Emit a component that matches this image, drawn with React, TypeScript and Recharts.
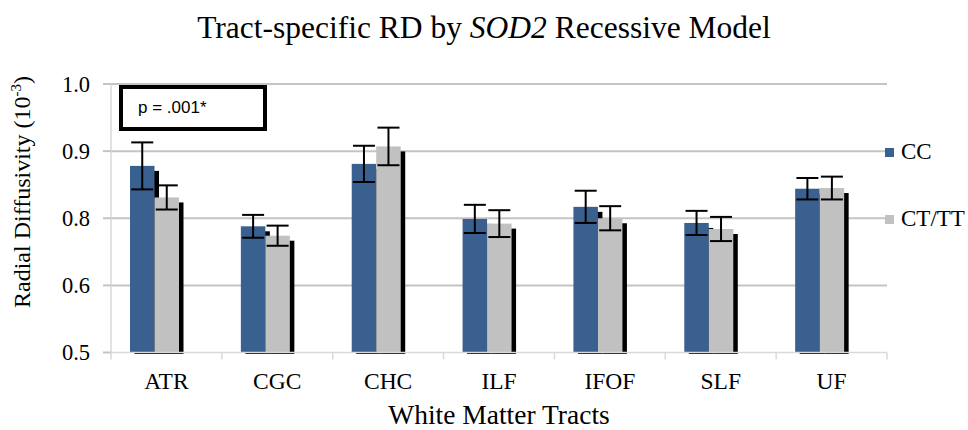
import React from 'react';
import { BarChart, Bar, XAxis, YAxis, CartesianGrid, ErrorBar } from 'recharts';

const tracts = ['ATR', 'CGC', 'CHC', 'ILF', 'IFOF', 'SLF', 'UF'];
const ccMeans = [0.878, 0.788, 0.881, 0.799, 0.817, 0.793, 0.844];
const ccErrors = [0.035, 0.017, 0.027, 0.021, 0.024, 0.018, 0.016];
const ctttMeans = [0.831, 0.774, 0.907, 0.792, 0.8, 0.784, 0.845];
const ctttErrors = [0.018, 0.015, 0.028, 0.02, 0.018, 0.018, 0.017];
const yTicks = [0.6, 0.7, 0.8, 0.9, 1.0];
// labels exactly as printed on the original axis
const yTickLabels = ['0.5', '0.6', '0.8', '0.9', '1.0'];

const series = [
  { key: 'cc', err: 'ccErr', name: 'CC', color: '#3A6090' },
  { key: 'cttt', err: 'ctttErr', name: 'CT/TT', color: '#C0C1C0' },
];

const data = tracts.map((t, i) => ({
  tract: t,
  cc: ccMeans[i],
  ccErr: ccErrors[i],
  cttt: ctttMeans[i],
  ctttErr: ctttErrors[i],
}));

const W = 968;
const H = 430;
const PLOT_LEFT = 111;
const PLOT_RIGHT = 81;
const serif = '"Liberation Serif", "Times New Roman", serif';
const sans = '"Liberation Sans", Arial, sans-serif';
const band = (W - PLOT_LEFT - PLOT_RIGHT) / tracts.length;

const ShadowBar = (props: any) => {
  const { x, y, width, height, fill } = props;
  if (!height || height <= 0) return null;
  return (
    <g>
      <rect x={x + 4.5} y={y + 5} width={width} height={Math.max(height - 3.5, 0)} fill="#000" />
      <rect x={x} y={y} width={width} height={height} fill={fill} />
    </g>
  );
};

const XTick = (props: any) => {
  const { x, y, payload, index } = props;
  return (
    <g>
      <line x1={x - band / 2} x2={x - band / 2} y1={y - 7} y2={y} stroke="#D9D9D9" strokeWidth={1.5} />
      {index === tracts.length - 1 && (
        <line x1={x + band / 2} x2={x + band / 2} y1={y - 7} y2={y} stroke="#D9D9D9" strokeWidth={1.5} />
      )}
      <text x={x} y={y + 29} textAnchor="middle" fontSize={23.5} fontFamily={serif} fill="#000">
        {payload.value}
      </text>
    </g>
  );
};

export default function App() {
  return (
    <div style={{ position: 'absolute', left: 0, top: 0, width: W, height: H, background: '#fff' }}>
      <div
        style={{
          position: 'absolute', left: 0, top: 8, width: W, textAlign: 'center',
          fontFamily: serif, fontSize: 31.5, lineHeight: '40px', color: '#000',
        }}
      >
        Tract-specific RD by <i>SOD2</i> Recessive Model
      </div>

      <BarChart
        width={W}
        height={H}
        data={data}
        margin={{ top: 84, right: PLOT_RIGHT, bottom: 47.5, left: 51 }}
        barGap={0}
        barSize={24.5}
      >
        <CartesianGrid vertical={false} horizontalValues={[0.7, 0.8, 0.9, 1.0]} stroke="#C4C4C4" strokeWidth={2} />
        <XAxis
          dataKey="tract"
          height={30}
          axisLine={{ stroke: '#D9D9D9', strokeWidth: 1.5 }}
          tickLine={false}
          tickSize={7}
          tickMargin={0}
          tick={<XTick />}
          interval={0}
          label={{
            content: () => (
              <text x={499} y={424} textAnchor="middle" fontSize={27.5} fontFamily={serif} fill="#000">
                White Matter Tracts
              </text>
            ),
          }}
        />
        <YAxis
          width={60}
          domain={[0.6, 1.0]}
          ticks={yTicks}
          tickFormatter={(v: number) => yTickLabels[yTicks.indexOf(v)]}
          axisLine={{ stroke: '#D9D9D9', strokeWidth: 1.5 }}
          tickLine={{ stroke: '#C4C4C4', strokeWidth: 2 }}
          tickSize={8}
          tickMargin={13}
          tick={{ fill: '#000', fontSize: 22.5, fontFamily: serif }}
          label={{
            content: () => (
              <text
                x={30}
                y={192}
                transform="rotate(-90, 30, 192)"
                textAnchor="middle"
                fontSize={24}
                fontFamily={serif}
                fill="#000"
              >
                Radial Diffusivity (10
                <tspan dy={-9} fontSize={15}>-3</tspan>
                <tspan dy={9}>)</tspan>
              </text>
            ),
          }}
        />
        {series.map((s) => (
          <Bar key={s.key} dataKey={s.key} name={s.name} fill={s.color} shape={<ShadowBar />} isAnimationActive={false}>
            <ErrorBar dataKey={s.err} width={11} stroke="#000" strokeWidth={2} />
          </Bar>
        ))}
        {/* empty slot so the bar pair sits left of the category centre, as in the original */}
        <Bar dataKey="spacer" fill="none" legendType="none" isAnimationActive={false} />
      </BarChart>

      <div
        style={{
          position: 'absolute', left: 119, top: 85, width: 148, height: 46, boxSizing: 'border-box',
          border: '4px solid #000', fontFamily: sans, fontSize: 17, lineHeight: '38px', paddingLeft: 15,
          color: '#000',
        }}
      >
        p = .001*
      </div>

      {series.map((s, i) => (
        <div
          key={s.key}
          style={{
            position: 'absolute', left: 885, top: 140 + i * 67, height: 24, display: 'flex',
            alignItems: 'center', fontFamily: serif, fontSize: 23, color: '#000', whiteSpace: 'nowrap',
          }}
        >
          <span style={{ display: 'inline-block', width: 9, height: 9, background: s.color, marginRight: 7 }} />
          <span>{s.name}</span>
        </div>
      ))}
    </div>
  );
}
